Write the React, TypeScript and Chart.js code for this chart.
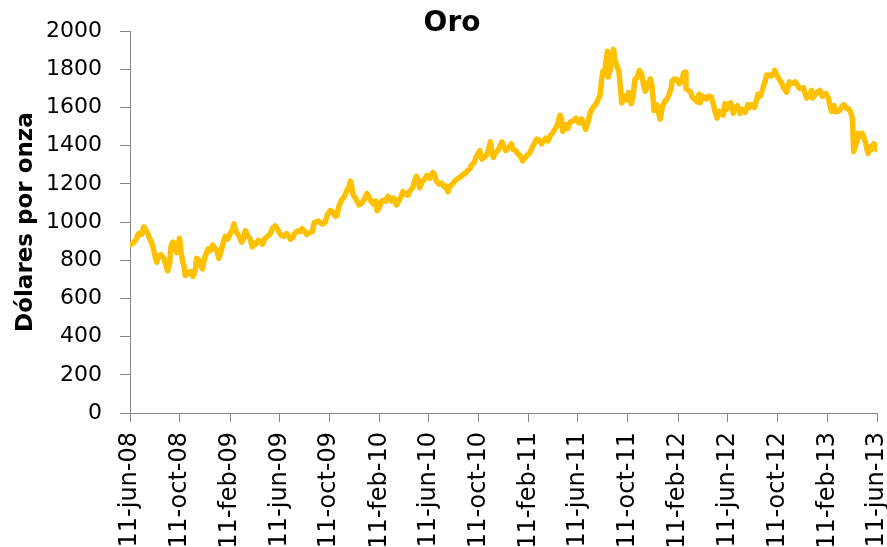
import React, { useEffect, useRef } from "react";
import { Chart, registerables } from "chart.js";

Chart.register(...registerables);

const TITLE = "Oro";
const Y_TITLE = "Dólares por onza";
const FONT = '"DejaVu Sans", Verdana, sans-serif';
const LINE_COLOR = "#FFC000";
const AXIS_COLOR = "#868686";

const X_TICK_LABELS = [
  "11-jun-08", "11-oct-08", "11-feb-09", "11-jun-09", "11-oct-09", "11-feb-10",
  "11-jun-10", "11-oct-10", "11-feb-11", "11-jun-11", "11-oct-11", "11-feb-12",
  "11-jun-12", "11-oct-12", "11-feb-13", "11-jun-13",
];
const Y_TICKS = [0, 200, 400, 600, 800, 1000, 1200, 1400, 1600, 1800, 2000];

const DATES_2008 = [
  "2008-06-11", "2008-06-18", "2008-06-25", "2008-07-02", "2008-07-09", "2008-07-15", "2008-07-22", "2008-07-29",
  "2008-08-05", "2008-08-12", "2008-08-15", "2008-08-19", "2008-08-26", "2008-09-02", "2008-09-09", "2008-09-11",
  "2008-09-16", "2008-09-19", "2008-09-24", "2008-09-29", "2008-10-03", "2008-10-07", "2008-10-10", "2008-10-14",
  "2008-10-17", "2008-10-21", "2008-10-24", "2008-10-28", "2008-11-03", "2008-11-07", "2008-11-12", "2008-11-17",
  "2008-11-21", "2008-11-26", "2008-12-01", "2008-12-05", "2008-12-10", "2008-12-15", "2008-12-19", "2008-12-24",
  "2008-12-30",
];
const PRICES_2008 = [
  880, 890, 905, 940, 935, 975, 950, 915,
  880, 815, 790, 820, 830, 810, 760, 745,
  785, 870, 895, 880, 840, 880, 915, 840,
  800, 770, 720, 740, 730, 740, 715, 745,
  810, 800, 770, 755, 810, 840, 860, 850,
  880,
];

const DATES_2009 = [
  "2009-01-05", "2009-01-09", "2009-01-14", "2009-01-20", "2009-01-26", "2009-01-30", "2009-02-05", "2009-02-10",
  "2009-02-17", "2009-02-20", "2009-02-25", "2009-03-02", "2009-03-06", "2009-03-11", "2009-03-16", "2009-03-20",
  "2009-03-25", "2009-03-31", "2009-04-06", "2009-04-10", "2009-04-15", "2009-04-21", "2009-04-27", "2009-05-01",
  "2009-05-07", "2009-05-13", "2009-05-19", "2009-05-26", "2009-06-01", "2009-06-05", "2009-06-10", "2009-06-16",
  "2009-06-22", "2009-06-29", "2009-07-03", "2009-07-08", "2009-07-14", "2009-07-20", "2009-07-27", "2009-07-31",
  "2009-08-06", "2009-08-12", "2009-08-17", "2009-08-24", "2009-08-31", "2009-09-04", "2009-09-09", "2009-09-15",
  "2009-09-21", "2009-09-25", "2009-10-01", "2009-10-07", "2009-10-13", "2009-10-19", "2009-10-26", "2009-10-30",
  "2009-11-04", "2009-11-10", "2009-11-16", "2009-11-23", "2009-11-27", "2009-12-02", "2009-12-04", "2009-12-08",
  "2009-12-14", "2009-12-18", "2009-12-23", "2009-12-30",
];
const PRICES_2009 = [
  860, 855, 810, 850, 900, 925, 910, 935,
  965, 990, 950, 935, 920, 895, 920, 955,
  930, 915, 870, 890, 885, 905, 900, 885,
  915, 925, 935, 970, 980, 970, 950, 930,
  925, 940, 930, 910, 920, 945, 955, 950,
  965, 950, 935, 945, 950, 995, 1000, 1005,
  995, 990, 1000, 1040, 1060, 1055, 1030, 1035,
  1085, 1115, 1130, 1165, 1175, 1215, 1200, 1145,
  1125, 1110, 1090, 1100,
];

const DATES_2010 = [
  "2010-01-05", "2010-01-11", "2010-01-15", "2010-01-21", "2010-01-27", "2010-02-02", "2010-02-05", "2010-02-10",
  "2010-02-16", "2010-02-22", "2010-02-26", "2010-03-03", "2010-03-08", "2010-03-12", "2010-03-18", "2010-03-24",
  "2010-03-30", "2010-04-06", "2010-04-09", "2010-04-15", "2010-04-21", "2010-04-27", "2010-05-03", "2010-05-07",
  "2010-05-12", "2010-05-17", "2010-05-20", "2010-05-26", "2010-06-01", "2010-06-07", "2010-06-14", "2010-06-21",
  "2010-06-25", "2010-06-30", "2010-07-06", "2010-07-12", "2010-07-19", "2010-07-23", "2010-07-28", "2010-08-03",
  "2010-08-09", "2010-08-16", "2010-08-24", "2010-08-30", "2010-09-03", "2010-09-09", "2010-09-14", "2010-09-20",
  "2010-09-24", "2010-09-30", "2010-10-06", "2010-10-14", "2010-10-19", "2010-10-25", "2010-11-01", "2010-11-05",
  "2010-11-09", "2010-11-12", "2010-11-16", "2010-11-22", "2010-11-26", "2010-12-01", "2010-12-07", "2010-12-13",
  "2010-12-17", "2010-12-22", "2010-12-30",
];
const PRICES_2010 = [
  1120, 1150, 1135, 1110, 1095, 1110, 1060, 1075,
  1110, 1115, 1110, 1135, 1125, 1110, 1125, 1090,
  1110, 1140, 1160, 1150, 1140, 1165, 1180, 1210,
  1240, 1220, 1180, 1210, 1225, 1245, 1230, 1260,
  1250, 1215, 1200, 1205, 1185, 1190, 1160, 1190,
  1200, 1220, 1230, 1240, 1250, 1255, 1270, 1280,
  1300, 1310, 1345, 1375, 1330, 1340, 1355, 1385,
  1420, 1380, 1340, 1365, 1370, 1390, 1420, 1390,
  1375, 1385, 1410,
];

const DATES_2011 = [
  "2011-01-04", "2011-01-10", "2011-01-14", "2011-01-20", "2011-01-27", "2011-02-01", "2011-02-07", "2011-02-14",
  "2011-02-18", "2011-02-24", "2011-03-02", "2011-03-08", "2011-03-14", "2011-03-18", "2011-03-24", "2011-03-30",
  "2011-04-05", "2011-04-11", "2011-04-18", "2011-04-21", "2011-04-28", "2011-05-02", "2011-05-05", "2011-05-11",
  "2011-05-17", "2011-05-23", "2011-05-31", "2011-06-06", "2011-06-13", "2011-06-20", "2011-06-27", "2011-06-30",
  "2011-07-06", "2011-07-12", "2011-07-18", "2011-07-25", "2011-07-29", "2011-08-04", "2011-08-08", "2011-08-11",
  "2011-08-16", "2011-08-22", "2011-08-24", "2011-08-29", "2011-09-02", "2011-09-06", "2011-09-09", "2011-09-14",
  "2011-09-19", "2011-09-23", "2011-09-26", "2011-09-30", "2011-10-04", "2011-10-07", "2011-10-13", "2011-10-19",
  "2011-10-24", "2011-10-28", "2011-11-03", "2011-11-08", "2011-11-14", "2011-11-18", "2011-11-23", "2011-11-29",
  "2011-12-05", "2011-12-09", "2011-12-14", "2011-12-20", "2011-12-29",
];
const PRICES_2011 = [
  1380, 1375, 1360, 1350, 1320, 1335, 1350, 1365,
  1385, 1410, 1435, 1430, 1410, 1420, 1440, 1425,
  1455, 1470, 1495, 1505, 1560, 1540, 1475, 1510,
  1490, 1525, 1530, 1545, 1520, 1540, 1500, 1485,
  1530, 1580, 1600, 1620, 1635, 1665, 1745, 1790,
  1800, 1895, 1760, 1800, 1860, 1905, 1850, 1820,
  1790, 1700, 1625, 1640, 1660, 1640, 1680, 1620,
  1660, 1745, 1760, 1795, 1775, 1720, 1685, 1720,
  1750, 1715, 1585, 1615, 1540,
];

const DATES_2012 = [
  "2012-01-04", "2012-01-10", "2012-01-13", "2012-01-19", "2012-01-25", "2012-01-27", "2012-02-02", "2012-02-08",
  "2012-02-14", "2012-02-20", "2012-02-24", "2012-02-28", "2012-03-01", "2012-03-07", "2012-03-13", "2012-03-16",
  "2012-03-22", "2012-03-28", "2012-04-02", "2012-04-05", "2012-04-10", "2012-04-16", "2012-04-20", "2012-04-26",
  "2012-05-02", "2012-05-08", "2012-05-11", "2012-05-16", "2012-05-21", "2012-05-25", "2012-05-31", "2012-06-04",
  "2012-06-08", "2012-06-13", "2012-06-19", "2012-06-25", "2012-06-29", "2012-07-05", "2012-07-11", "2012-07-17",
  "2012-07-24", "2012-07-30", "2012-08-03", "2012-08-09", "2012-08-15", "2012-08-21", "2012-08-24", "2012-08-30",
  "2012-09-05", "2012-09-10", "2012-09-14", "2012-09-19", "2012-09-25", "2012-10-02", "2012-10-04", "2012-10-10",
  "2012-10-16", "2012-10-23", "2012-10-26", "2012-10-31", "2012-11-02", "2012-11-07", "2012-11-09", "2012-11-14",
  "2012-11-20", "2012-11-23", "2012-11-28", "2012-12-03", "2012-12-07", "2012-12-13", "2012-12-18", "2012-12-21",
  "2012-12-27",
];
const PRICES_2012 = [
  1610, 1635, 1640, 1665, 1700, 1740, 1750, 1745,
  1725, 1740, 1780, 1785, 1700, 1690, 1680, 1655,
  1645, 1630, 1670, 1625, 1660, 1650, 1645, 1660,
  1655, 1610, 1580, 1545, 1580, 1575, 1560, 1620,
  1590, 1620, 1625, 1570, 1600, 1610, 1570, 1590,
  1575, 1615, 1600, 1615, 1600, 1640, 1670, 1660,
  1700, 1735, 1770, 1770, 1765, 1780, 1795, 1765,
  1745, 1720, 1700, 1690, 1680, 1720, 1735, 1725,
  1730, 1735, 1720, 1700, 1700, 1705, 1670, 1650,
  1660,
];

const DATES_2013 = [
  "2013-01-02", "2013-01-04", "2013-01-10", "2013-01-16", "2013-01-22", "2013-01-28", "2013-02-01", "2013-02-06",
  "2013-02-12", "2013-02-15", "2013-02-20", "2013-02-26", "2013-03-01", "2013-03-07", "2013-03-13", "2013-03-19",
  "2013-03-22", "2013-03-28", "2013-04-02", "2013-04-08", "2013-04-12", "2013-04-15", "2013-04-18", "2013-04-23",
  "2013-04-26", "2013-05-01", "2013-05-06", "2013-05-10", "2013-05-14", "2013-05-17", "2013-05-20", "2013-05-24",
  "2013-05-29", "2013-06-03", "2013-06-06", "2013-06-11",
];
const PRICES_2013 = [
  1690, 1650, 1665, 1680, 1690, 1660, 1670, 1675,
  1650, 1620, 1580, 1610, 1580, 1580, 1590, 1610,
  1615, 1595, 1595, 1575, 1540, 1370, 1390, 1420,
  1465, 1450, 1465, 1440, 1420, 1385, 1360, 1395,
  1380, 1410, 1405, 1380,
];

const MONTHS: Record<string, number> = {
  ene: 0, feb: 1, mar: 2, abr: 3, may: 4, jun: 5, jul: 6, ago: 7, sep: 8, oct: 9, nov: 10, dic: 11,
};
const ORIGIN = Date.UTC(2008, 5, 11);
const DAY = 86400000;

function dayFromIso(s: string): number {
  const [y, m, d] = s.split("-").map(Number);
  return Math.round((Date.UTC(y, m - 1, d) - ORIGIN) / DAY);
}
function dayFromLabel(s: string): number {
  const [d, mon, yy] = s.split("-");
  return Math.round((Date.UTC(2000 + Number(yy), MONTHS[mon], Number(d)) - ORIGIN) / DAY);
}

const ALL_DATES = [...DATES_2008, ...DATES_2009, ...DATES_2010, ...DATES_2011, ...DATES_2012, ...DATES_2013];
const ALL_PRICES = [...PRICES_2008, ...PRICES_2009, ...PRICES_2010, ...PRICES_2011, ...PRICES_2012, ...PRICES_2013];
const TICK_DAYS = X_TICK_LABELS.map(dayFromLabel);

const titlePlugin = {
  id: "oroTitle",
  afterDraw(chart: any) {
    const ctx = chart.ctx;
    ctx.save();
    ctx.font = `bold 28px ${FONT}`;
    ctx.fillStyle = "#000";
    ctx.textAlign = "center";
    ctx.textBaseline = "middle";
    ctx.fillText(TITLE, 452, 24);
    ctx.restore();
  },
};

export default function App() {
  const ref = useRef<HTMLCanvasElement>(null);

  useEffect(() => {
    if (!ref.current) return;
    const points = ALL_DATES.map((d, i) => ({ x: dayFromIso(d), y: ALL_PRICES[i] }));
    const chart = new Chart(ref.current, {
      type: "line",
      data: {
        datasets: [
          {
            data: points,
            borderColor: LINE_COLOR,
            backgroundColor: LINE_COLOR,
            borderWidth: 5.5,
            pointRadius: 0,
            tension: 0,
            fill: false,
            borderJoinStyle: "round",
            borderCapStyle: "round",
          },
        ],
      },
      options: {
        animation: false,
        responsive: false,
        maintainAspectRatio: false,
        layout: { padding: { top: 27, right: 10, left: 0, bottom: 0 } },
        plugins: {
          legend: { display: false },
          tooltip: { enabled: false },
          title: { display: false },
        },
        scales: {
          x: {
            type: "linear",
            min: TICK_DAYS[0],
            max: TICK_DAYS[TICK_DAYS.length - 1],
            afterBuildTicks: (s: any) => {
              s.ticks = TICK_DAYS.map((v) => ({ value: v }));
            },
            afterFit: (s: any) => {
              s.height = 134;
              s.paddingLeft = 0;
              s.paddingRight = 0;
            },
            ticks: {
              autoSkip: false,
              maxRotation: 90,
              minRotation: 90,
              padding: 10,
              color: "#000",
              font: { family: FONT, size: 24 },
              callback: (v: any) => {
                const i = TICK_DAYS.indexOf(Number(v));
                return i >= 0 ? X_TICK_LABELS[i] : "";
              },
            },
            grid: { drawOnChartArea: false, drawTicks: true, tickLength: 9, color: AXIS_COLOR },
            border: { color: AXIS_COLOR, width: 1 },
          },
          y: {
            min: 0,
            max: 2000,
            afterBuildTicks: (s: any) => {
              s.ticks = Y_TICKS.map((v) => ({ value: v }));
            },
            afterFit: (s: any) => {
              s.width = 130;
            },
            ticks: {
              padding: 18,
              color: "#000",
              font: { family: FONT, size: 22 },
              callback: (v: any) => String(v),
            },
            grid: { drawOnChartArea: false, drawTicks: true, tickLength: 10, color: AXIS_COLOR },
            border: { color: AXIS_COLOR, width: 1 },
            title: {
              display: true,
              text: Y_TITLE,
              color: "#000",
              font: { family: FONT, size: 23, weight: "bold" },
              padding: { top: 12, bottom: 0 },
            },
          },
        },
      },
      plugins: [titlePlugin],
    } as any);
    return () => chart.destroy();
  }, []);

  return (
    <div style={{ position: "fixed", left: 0, top: 0, width: 887, height: 547, background: "#fff" }}>
      <canvas ref={ref} width={887} height={547} style={{ width: 887, height: 547, display: "block" }} />
    </div>
  );
}
